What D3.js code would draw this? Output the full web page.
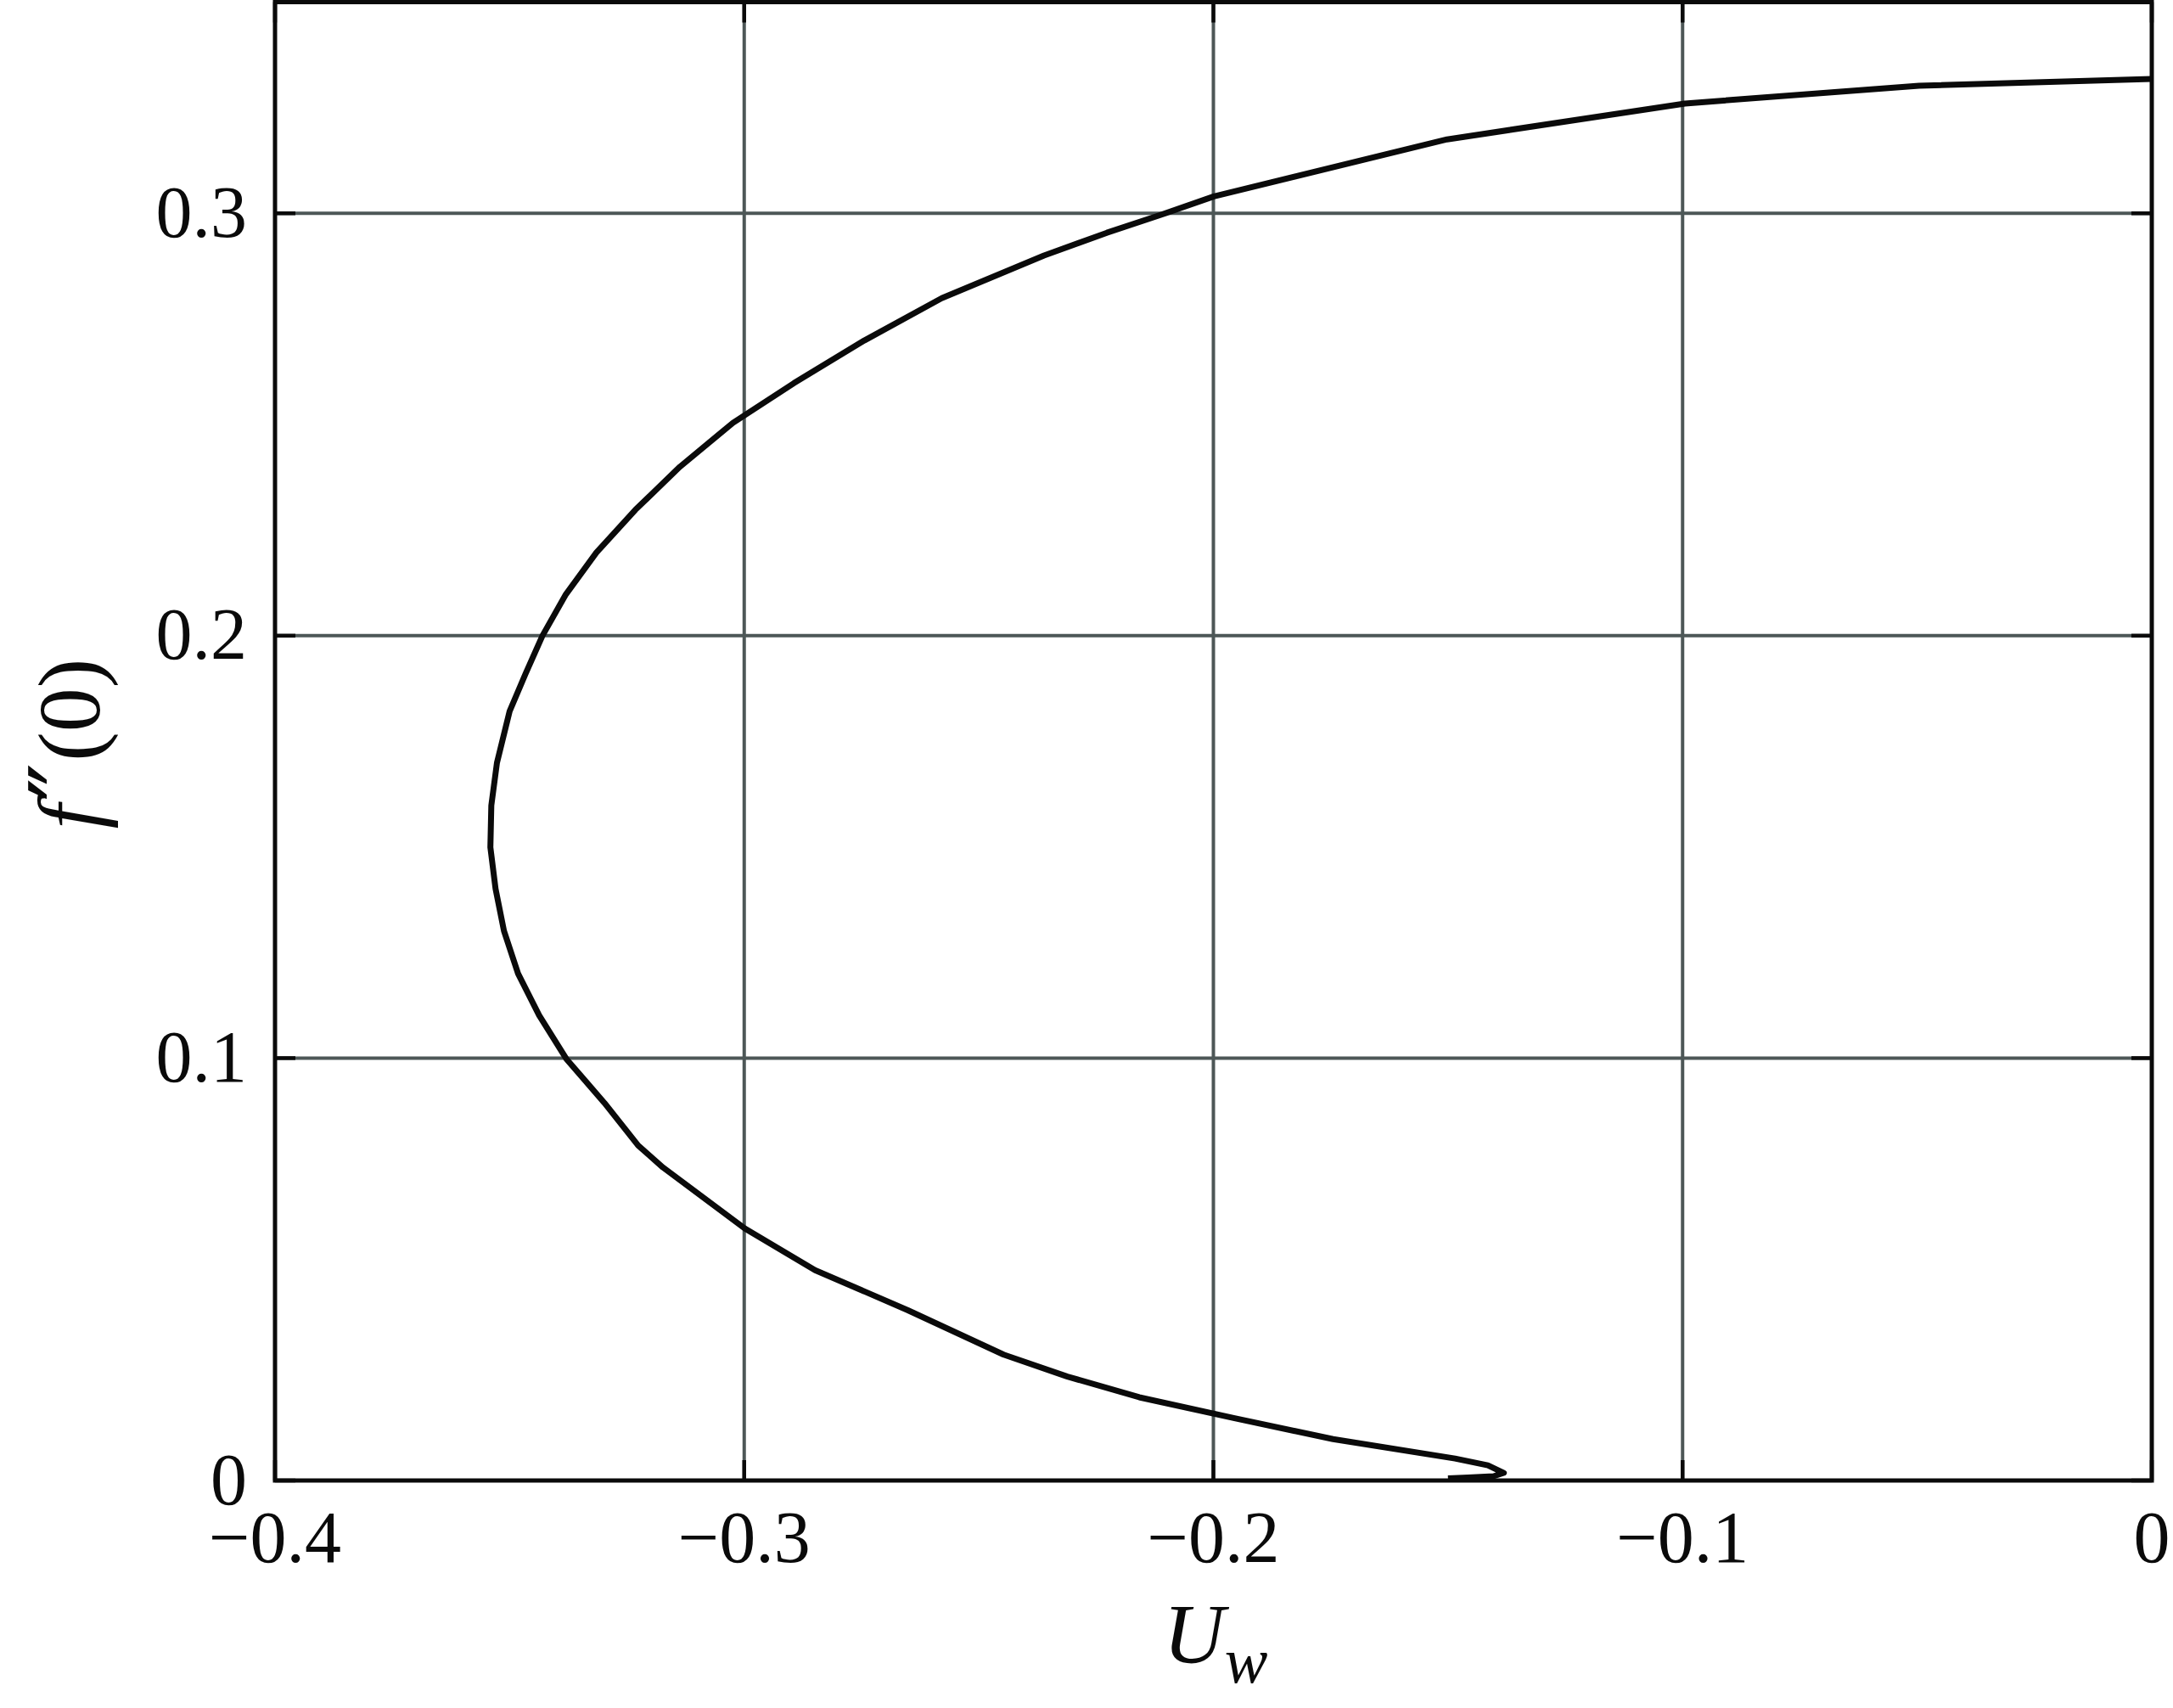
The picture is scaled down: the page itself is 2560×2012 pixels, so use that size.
<!DOCTYPE html>
<html>
<head>
<meta charset="utf-8">
<script src="https://cdn.jsdelivr.net/npm/d3@7"></script>
<style>
  html, body { margin: 0; padding: 0; background: #fff; }
  svg { display: block; }
  text { font-family: "Liberation Serif", "Times New Roman", serif; fill: #0a0a0a; }
</style>
</head>
<body>
<svg width="2560" height="2012"></svg>
<script>
// Curve data: wall velocity U_w vs skin friction f''(0)
const uw = [0, -0.0496, -0.0995, -0.1502, -0.1999, -0.2113, -0.2227, -0.2361, -0.2579, -0.2744,
    -0.2894, -0.3024, -0.3137, -0.3232, -0.3315, -0.3380, -0.3430, -0.3466, -0.3500, -0.3527,
    -0.3539, -0.3541, -0.3530, -0.3512, -0.3482, -0.3437, -0.3379, -0.3298, -0.3226, -0.3173,
    -0.2999, -0.2849, -0.2651, -0.2447, -0.2311, -0.2158, -0.1957, -0.1745, -0.1485, -0.1415,
    -0.1381, -0.1403, -0.1457, -0.1500];
const fpp = [0.3318, 0.3302, 0.3260, 0.3175, 0.3040, 0.2996, 0.2954, 0.2900, 0.2799, 0.2699,
    0.2598, 0.2504, 0.2400, 0.2298, 0.2197, 0.2098, 0.2000, 0.1910, 0.1821, 0.1699,
    0.1598, 0.1499, 0.1401, 0.1301, 0.1200, 0.1101, 0.0998, 0.0894, 0.0793, 0.0741,
    0.0597, 0.0498, 0.0403, 0.0298, 0.0246, 0.0197, 0.0148, 0.0098, 0.0052, 0.0036,
    0.0018, 0.0010, 0.0007, 0.0005];

const xTicks = [-0.4, -0.3, -0.2, -0.1, 0];
const xTickLabels = ["\u22120.4", "\u22120.3", "\u22120.2", "\u22120.1", "0"];
const yTicks = [0, 0.1, 0.2, 0.3];
const yTickLabels = ["0", "0.1", "0.2", "0.3"];

// Plot box
const plotLeft = 324, plotRight = 2535, plotTop = 2.5, plotBottom = 1744;
const tickLen = 24;
const gridColor = "#4d5757";

const x = d3.scaleLinear().domain([-0.4, 0]).range([plotLeft, plotRight]);
const y = d3.scaleLinear().domain([0, 0.35]).range([plotBottom, plotTop]);

const svg = d3.select("svg");

// Grid lines
svg.append("g").selectAll("line")
    .data(xTicks.slice(1, -1))
    .join("line")
    .attr("x1", d => x(d)).attr("x2", d => x(d))
    .attr("y1", plotTop).attr("y2", plotBottom)
    .attr("stroke", gridColor).attr("stroke-width", 4);

svg.append("g").selectAll("line")
    .data(yTicks.slice(1))
    .join("line")
    .attr("x1", plotLeft).attr("x2", plotRight)
    .attr("y1", d => y(d)).attr("y2", d => y(d))
    .attr("stroke", gridColor).attr("stroke-width", 4);

// Inward ticks on all four sides
const ticks = svg.append("g").attr("stroke", "#0a0a0a").attr("stroke-width", 4.5);
xTicks.forEach(t => {
    ticks.append("line").attr("x1", x(t)).attr("x2", x(t)).attr("y1", plotBottom).attr("y2", plotBottom - tickLen);
    ticks.append("line").attr("x1", x(t)).attr("x2", x(t)).attr("y1", plotTop).attr("y2", plotTop + tickLen);
});
yTicks.forEach(t => {
    ticks.append("line").attr("x1", plotLeft).attr("x2", plotLeft + tickLen).attr("y1", y(t)).attr("y2", y(t));
    ticks.append("line").attr("x1", plotRight).attr("x2", plotRight - tickLen).attr("y1", y(t)).attr("y2", y(t));
});

// Curve
const pts = uw.map((u, i) => [u, fpp[i]]);
const line = d3.line().x(d => x(d[0])).y(d => y(d[1])).curve(d3.curveLinear);
svg.append("path")
    .datum(pts)
    .attr("d", line)
    .attr("fill", "none")
    .attr("stroke", "#0a0a0a")
    .attr("stroke-width", 7)
    .attr("stroke-linejoin", "round");

// Frame
svg.append("rect")
    .attr("x", plotLeft).attr("y", plotTop)
    .attr("width", plotRight - plotLeft).attr("height", plotBottom - plotTop)
    .attr("fill", "none").attr("stroke", "#0a0a0a").attr("stroke-width", 5);

// Tick labels
svg.append("g").selectAll("text")
    .data(xTicks)
    .join("text")
    .attr("x", d => x(d))
    .attr("y", 1840)
    .attr("text-anchor", "middle")
    .attr("font-size", 86)
    .text((d, i) => xTickLabels[i]);

svg.append("g").selectAll("text")
    .data(yTicks)
    .join("text")
    .attr("x", 291)
    .attr("y", d => y(d))
    .attr("dy", "0.32em")
    .attr("text-anchor", "end")
    .attr("font-size", 86)
    .text((d, i) => yTickLabels[i]);

// Axis titles
const xt = svg.append("text")
    .attr("x", 1432).attr("y", 1958)
    .attr("text-anchor", "middle")
    .attr("font-size", 100);
xt.append("tspan").attr("font-style", "italic").text("U");
xt.append("tspan").attr("font-style", "italic").attr("font-size", 76).attr("dy", 24).text("w");

const yt = svg.append("text")
    .attr("transform", "translate(117,876) rotate(-90)")
    .attr("text-anchor", "middle")
    .attr("font-size", 104);
yt.append("tspan").attr("font-style", "italic").text("f");
yt.append("tspan").attr("font-family", "DejaVu Serif").attr("font-size", 120).attr("dx", 4).attr("dy", 4).text("\u2033");
yt.append("tspan").attr("dx", 2).attr("dy", -4).text("(0)");
</script>
</body>
</html>
